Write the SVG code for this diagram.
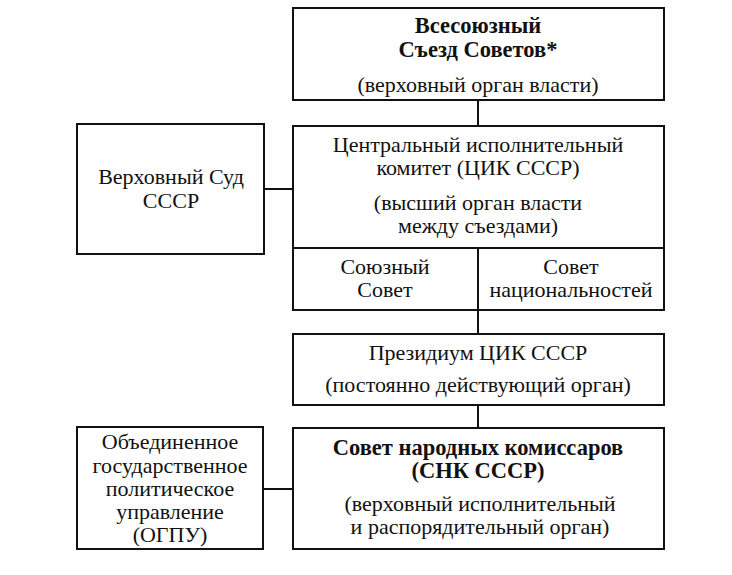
<svg xmlns="http://www.w3.org/2000/svg" width="732" height="575" viewBox="0 0 732 575">
<style>
.box{fill:#fff;stroke:#111;stroke-width:2}
.ln{stroke:#111;stroke-width:2;fill:none}
text{font-family:"Liberation Serif","Times New Roman",serif;font-size:22px;fill:#111;text-anchor:middle}
.b{font-weight:bold;font-size:22.5px}
</style>
<rect width="732" height="575" fill="#fff"/>
<g id="connectors">
<line class="ln" x1="478" y1="100" x2="478" y2="126"/>
<line class="ln" x1="478" y1="310" x2="478" y2="334"/>
<line class="ln" x1="478" y1="405" x2="478" y2="428"/>
<line class="ln" x1="264" y1="189" x2="293" y2="189"/>
<line class="ln" x1="263" y1="489" x2="293" y2="489"/>
</g>
<g id="congress">
<rect class="box" x="293" y="8" width="371" height="92"/>
<text class="b" x="478" y="33">Всесоюзный</text>
<text class="b" x="478" y="57">Съезд Советов*</text>
<text x="478" y="92">(верховный орган власти)</text>
</g>
<g id="cik">
<rect class="box" x="293" y="126" width="371" height="122"/>
<text x="478" y="152">Центральный исполнительный</text>
<text x="478" y="175">комитет (ЦИК СССР)</text>
<text x="478" y="210">(высший орган власти</text>
<text x="478" y="233">между съездами)</text>
</g>
<g id="union-council">
<rect class="box" x="293" y="248" width="185" height="62"/>
<text x="385" y="274">Союзный</text>
<text x="385" y="297">Совет</text>
</g>
<g id="nationalities-council">
<rect class="box" x="478" y="248" width="186" height="62"/>
<text x="571" y="274">Совет</text>
<text x="571" y="297">национальностей</text>
</g>
<g id="presidium">
<rect class="box" x="293" y="334" width="371" height="71"/>
<text x="478" y="360">Президиум ЦИК СССР</text>
<text x="478" y="392">(постоянно действующий орган)</text>
</g>
<g id="supreme-court">
<rect class="box" x="77" y="124" width="187" height="130"/>
<text x="171" y="184">Верховный Суд</text>
<text x="171" y="208">СССР</text>
</g>
<g id="snk">
<rect class="box" x="293" y="428" width="371" height="121"/>
<text class="b" x="478" y="455">Совет народных комиссаров</text>
<text class="b" x="478" y="478">(СНК СССР)</text>
<text x="480" y="511">(верховный исполнительный</text>
<text x="480" y="534">и распорядительный орган)</text>
</g>
<g id="ogpu">
<rect class="box" x="77" y="427" width="186" height="122"/>
<text x="170" y="449">Объединенное</text>
<text x="170" y="473">государственное</text>
<text x="170" y="496">политическое</text>
<text x="170" y="519">управление</text>
<text x="170" y="542">(ОГПУ)</text>
</g>
</svg>
